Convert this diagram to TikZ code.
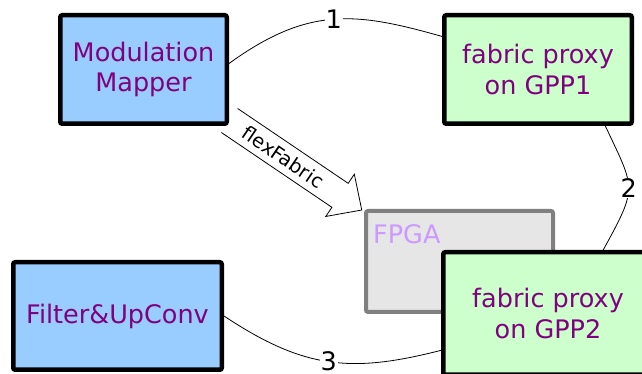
\documentclass[tikz,border=0pt]{standalone}
\usepackage{fontspec}
\setmainfont{DejaVu Sans}
\definecolor{mmblue}{HTML}{99CCFF}
\definecolor{gpgreen}{HTML}{CCFFCC}
\definecolor{txtpurple}{HTML}{800080}
\definecolor{fpgafill}{HTML}{E6E6E6}
\definecolor{fpgaborder}{HTML}{808080}
\definecolor{fpgatext}{HTML}{CC99FF}
\newcommand\dgbig{\fontsize{25.5}{30.6}\selectfont}
\newcommand\dgmid{\fontsize{19.5}{23}\selectfont}
\begin{document}
\begin{tikzpicture}[x=1pt,y=1pt,
  box/.style={draw=black, line width=4.5pt, rounded corners=2pt, inner sep=0pt,
              text=txtpurple, align=center, font=\dgbig},
  bluebox/.style={box, fill=mmblue},
  greenbox/.style={box, fill=gpgreen},
  fpgabox/.style={draw=fpgaborder, fill=fpgafill, line width=4pt, rounded corners=2pt, inner sep=0pt},
  conn/.style={draw=black, line width=0.8pt},
  lab/.style={fill=white, text=black, inner sep=1pt, font=\dgbig},
  hollow/.style={draw=black, line width=0.8pt, line join=miter}]
\useasboundingbox (0,0) rectangle (642,374);
\clip (0,0) rectangle (642,374);
\fill[white] (0,0) rectangle (642,374);

\node[bluebox, minimum width=166.5pt, minimum height=108.5pt] (mm) at (143.5,304.5) {Modulation\\Mapper};
\node[greenbox, minimum width=187.5pt, minimum height=108.5pt] (gp1) at (538,304.5) {fabric proxy\\on GPP1};
\node[fpgabox, minimum width=187pt, minimum height=101pt] (fpga) at (459.5,112.5) {};
\node[anchor=west, text=fpgatext, font=\dgbig, inner sep=0pt] (fpgalabel) at (373,140) {FPGA};
\node[greenbox, minimum width=209.5pt, minimum height=122.5pt] (gp2) at (548,60.5) {fabric proxy\\on GPP2};
\node[bluebox, minimum width=208.5pt, minimum height=107.5pt] (fu) at (117.5,58) {Filter\&UpConv};

\draw[conn] (mm.4.3) .. controls +(80,58) and +(-85,24) .. (gp1.161.3) node[pos=0.5, lab] (l1) {1};
\draw[conn] (gp1.320.3) .. controls +(30,-64) and +(35,64) .. (gp2.49.1) node[pos=0.5, lab] (l2) {2};
\draw[conn] (fu.-0.5) .. controls +(80,-53) and +(-90,-23) .. (gp2.199) node[pos=0.5, lab] (l3) {3};

\begin{scope}[shift={(229.5,253.5)}, rotate=-34.1]
  \draw[hollow] (0,14.5) -- (133.5,14.5) -- (133.5,25.5) -- (159.7,0) -- (133.5,-25.5) -- (133.5,-14.5) -- (0,-14.5);
  \node[rotate=-34.1, font=\dgmid, text=black, inner sep=0pt] (ff) at (65,0) {flexFabric};
\end{scope}
\end{tikzpicture}
\end{document}
